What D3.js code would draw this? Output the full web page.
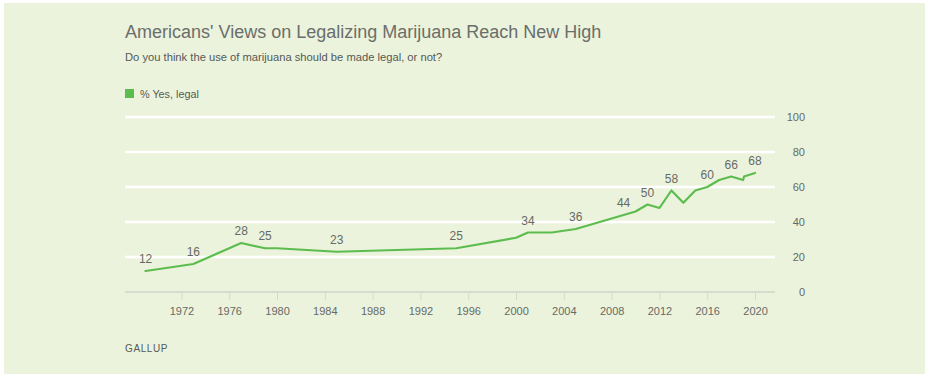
<!DOCTYPE html>
<html>
<head>
<meta charset="utf-8">
<script src="https://cdn.jsdelivr.net/npm/d3@7"></script>
<style>
  html, body { margin: 0; padding: 0; background: #ffffff; }
  svg { display: block; }
  text { font-family: "Liberation Sans", Arial, sans-serif; }
</style>
</head>
<body>
<svg id="chart" width="929" height="378"></svg>
<script>
// ---- data ----
const years  = [1969, 1972, 1973, 1977, 1979, 1980, 1985, 1995, 2000, 2001, 2003, 2005, 2009, 2010, 2011, 2012, 2013, 2014, 2015, 2016, 2017, 2018, 2019.0, 2019.08, 2020];
const values = [12,   15,   16,   28,   25,   25,   23,   25,   31,   34,   34,   36,   44,   46,   50,   48,   58,   51,   58,   60,   64,   66,   64,     66,      68];
const labeledYears = [1969, 1973, 1977, 1979, 1985, 1995, 2001, 2005, 2009, 2011, 2013, 2016, 2018, 2020];
const xTicks = [1972, 1976, 1980, 1984, 1988, 1992, 1996, 2000, 2004, 2008, 2012, 2016, 2020];
const yTicks = [0, 20, 40, 60, 80, 100];
const seriesName = "% Yes, legal";
const title = "Americans' Views on Legalizing Marijuana Reach New High";
const subtitle = "Do you think the use of marijuana should be made legal, or not?";
const source = "GALLUP";

const data = years.map((y, i) => ({ year: y, value: values[i] }));

const svg = d3.select("#chart");
const bg = "#ecf3dd";
const lineColor = "#5cbd4e";
const textColor = "#666a66";

svg.append("rect").attr("x", 4).attr("y", 3).attr("width", 921).attr("height", 371).attr("fill", bg);

const x = d3.scaleLinear().domain([1967.28, 2021.67]).range([125, 775]);
const y = d3.scaleLinear().domain([0, 100]).range([292, 117]);

// title etc.
svg.append("text").attr("x", 125).attr("y", 38).attr("fill", "#6a6e6a")
  .style("font-size", "18px").text(title);
svg.append("text").attr("x", 125).attr("y", 61).attr("fill", "#555955")
  .style("font-size", "11.2px").text(subtitle);

// legend
svg.append("rect").attr("x", 125).attr("y", 89).attr("width", 9).attr("height", 9).attr("fill", lineColor);
svg.append("text").attr("x", 140).attr("y", 97.5).attr("fill", "#555955")
  .style("font-size", "10.8px").text(seriesName);

// gridlines
svg.append("g").selectAll("line").data(yTicks.filter(d => d > 0)).join("line")
  .attr("x1", 125).attr("x2", 775)
  .attr("y1", d => y(d)).attr("y2", d => y(d))
  .attr("stroke", "#ffffff").attr("stroke-width", 2.5);

// x axis
const xAxis = d3.axisBottom(x).tickValues(xTicks).tickFormat(d3.format("d")).tickSize(8).tickPadding(7);
const gx = svg.append("g").attr("transform", `translate(0,${y(0)})`).call(xAxis);
gx.select(".domain").remove();
gx.selectAll(".tick line").attr("stroke", "#d5d9cc").attr("stroke-width", 1);
gx.selectAll(".tick text").attr("fill", textColor).style("font-size", "11px")
  .style("font-family", "\"Liberation Sans Narrow\", \"Liberation Sans\", sans-serif");
svg.append("line").attr("x1", 125).attr("x2", 775).attr("y1", y(0)).attr("y2", y(0))
  .attr("stroke", "#d8dccf").attr("stroke-width", 2);

// y axis (right)
const yAxis = d3.axisRight(y).tickValues(yTicks).tickSize(0).tickPadding(0);
const gy = svg.append("g").attr("transform", `translate(805,0)`).call(yAxis);
gy.select(".domain").remove();
gy.selectAll(".tick text").attr("fill", textColor).style("font-size", "11px").attr("text-anchor", "end").attr("x", 0);

// line
const line = d3.line().x(d => x(d.year)).y(d => y(d.value));
svg.append("path").datum(data).attr("d", line)
  .attr("fill", "none").attr("stroke", lineColor).attr("stroke-width", 2.2)
  .attr("stroke-linejoin", "round").attr("stroke-linecap", "round");

// labels
svg.append("g").selectAll("text").data(data.filter(d => labeledYears.includes(d.year))).join("text")
  .attr("x", d => x(d.year)).attr("y", d => y(d.value) - 8)
  .attr("text-anchor", "middle").attr("fill", textColor)
  .style("font-size", "12px").text(d => d.value);

// source
svg.append("text").attr("x", 125).attr("y", 352).attr("fill", "#555955")
  .style("font-size", "10px").style("letter-spacing", "0.6px")
  .style("font-family", "\"Liberation Sans Narrow\", \"Liberation Sans\", sans-serif").text(source);
</script>
</body>
</html>
